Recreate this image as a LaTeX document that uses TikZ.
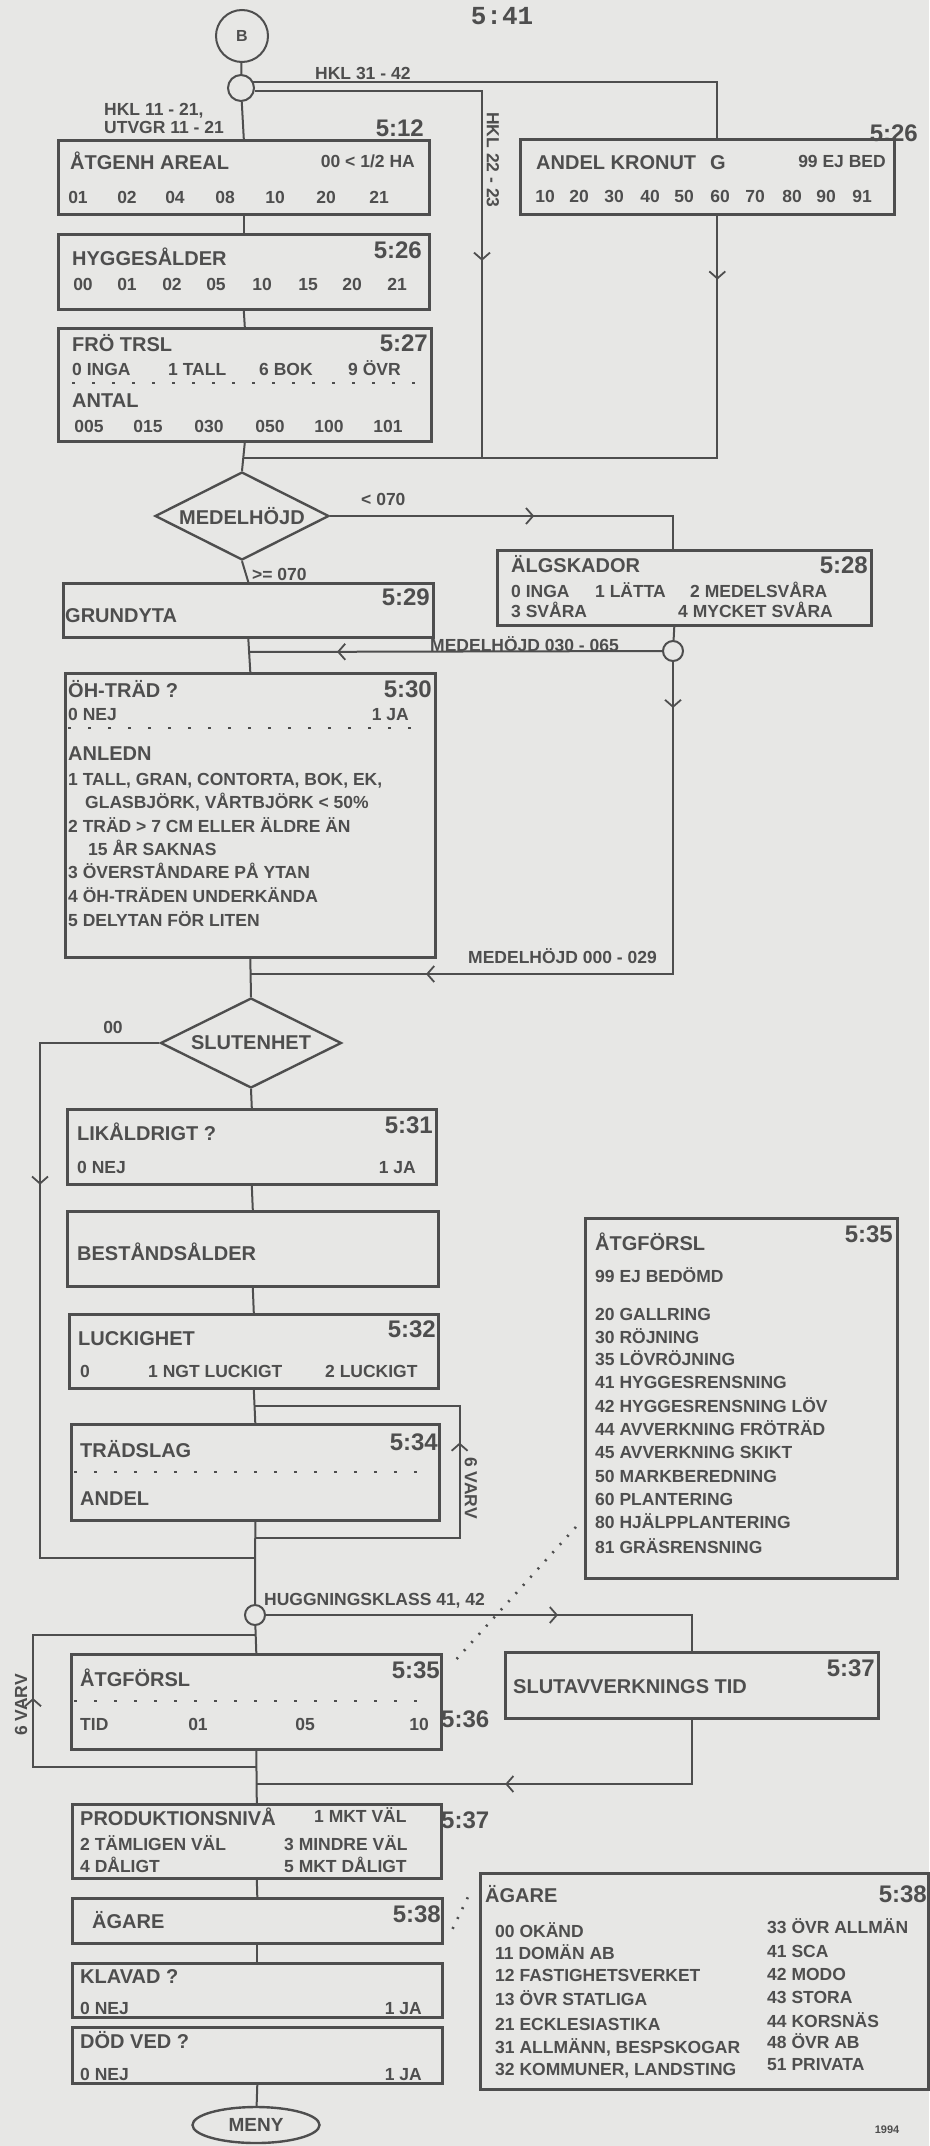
\documentclass[tikz,border=0pt]{standalone}
\usepackage{fontspec}
\setmainfont{Liberation Sans}
\newfontfamily\monofnt{Liberation Mono}
\usepackage{tikz}
\usetikzlibrary{shapes.geometric, arrows.meta, decorations.markings}
\definecolor{ink}{RGB}{78,78,78}
\definecolor{paper}{RGB}{231,231,229}
\tikzset{
  box/.style={rectangle, draw=ink, line width=2.6pt, anchor=north west, inner sep=0pt},
  conn/.style={draw=ink, line width=2pt},
  chev/.style={postaction={decorate, decoration={markings,
      mark=at position #1 with {\arrow{Straight Barb[length=7pt, width=16pt, line width=1.8pt]}}}}},
  ttl/.style={font=\fontsize{20}{22}\selectfont\bfseries, text=ink, inner sep=0pt, anchor=base west},
  itm/.style={font=\fontsize{17.5}{19}\selectfont\bfseries, text=ink, inner sep=0pt, anchor=base west},
  ref/.style={font=\fontsize{24}{26}\selectfont\bfseries, text=ink, inner sep=0pt, anchor=base east},
  dots/.style={draw=ink, line width=2pt, dash pattern=on 3pt off 17pt},
  dotlink/.style={draw=ink, line width=2.6pt, dash pattern=on 2pt off 9pt},
  junc/.style={circle, draw=ink, line width=2pt, inner sep=0pt, minimum size=#1},
  dec/.style={diamond, aspect=2, draw=ink, line width=2.4pt, inner sep=0pt,
              font=\fontsize{20}{22}\selectfont\bfseries, text=ink},
}
\begin{document}
\begin{tikzpicture}[x=1pt, y=-1pt]
\useasboundingbox (0,0) rectangle (929,2146);
\fill[paper] (0,0) rectangle (929,2146);

\node[font=\monofnt\fontsize{26}{28}\selectfont\bfseries, text=ink] (pg) at (502,16) {5:41};
\node[junc=52pt, font=\fontsize{16}{18}\selectfont\bfseries, text=ink] (b) at (242,36) {B};
\node[junc=26pt] (s1) at (241,88) {};

\node[box, minimum width=371pt, minimum height=74pt] (areal) at (57,139) {};
\node[box, minimum width=374pt, minimum height=75pt] (andel) at (519,138) {};
\node[box, minimum width=371pt, minimum height=75pt] (hygg) at (57,233) {};
\node[box, minimum width=373pt, minimum height=113pt] (fro) at (57,327) {};
\node[dec, minimum width=174pt, minimum height=88pt] (mh) at (242,516) {MEDELHÖJD};
\node[box, minimum width=370pt, minimum height=54pt] (grund) at (62,582) {};
\node[box, minimum width=374pt, minimum height=75pt] (alg) at (496,549) {};
\node[junc=20pt] (s2) at (673,651) {};
\node[box, minimum width=370pt, minimum height=284pt] (oh) at (64,672) {};
\node[dec, minimum width=181pt, minimum height=90pt] (sl) at (251,1043) {SLUTENHET};
\node[box, minimum width=369pt, minimum height=75pt] (lik) at (66,1108) {};
\node[box, minimum width=371pt, minimum height=75pt] (best) at (66,1210) {};
\node[box, minimum width=369pt, minimum height=74pt] (luck) at (68,1313) {};
\node[box, minimum width=368pt, minimum height=96pt] (trad) at (70,1423) {};
\node[box, minimum width=312pt, minimum height=360pt] (atgk) at (584,1217) {};
\node[junc=20pt] (s3) at (255,1615) {};
\node[box, minimum width=370pt, minimum height=95pt] (atg) at (70,1653) {};
\node[box, minimum width=373pt, minimum height=66pt] (slut) at (504,1651) {};
\node[box, minimum width=369pt, minimum height=74pt] (prod) at (71,1803) {};
\node[box, minimum width=370pt, minimum height=45pt] (agl) at (71,1897) {};
\node[box, minimum width=370pt, minimum height=54pt] (klav) at (71,1962) {};
\node[box, minimum width=370pt, minimum height=56pt] (dod) at (71,2026) {};
\node[box, minimum width=448pt, minimum height=216pt] (agr) at (479,1872) {};
\node[ellipse, draw=ink, line width=2.4pt, minimum width=127pt, minimum height=36pt, inner sep=0pt,
      font=\fontsize{19}{21}\selectfont\bfseries, text=ink] (meny) at (256,2125) {MENY};

\draw[conn] (b) -- (s1);
\draw[conn] (s1.27) -| ([xshift=10pt]andel.north);
\node[itm] at (315,80) {HKL 31 - 42};
\coordinate (j22) at (482,458);
\draw[conn, chev=397pt] (s1.-13) -| (j22);
\node[itm, rotate=-90, anchor=center] at (493,160) {HKL 22 - 23};
\draw[conn] (s1) -- (areal.north);
\node[itm] at (104,116) {HKL 11 - 21,};
\node[itm] at (104,134) {UTVGR 11 - 21};
\draw[conn] (areal.south) -- (hygg.north);
\draw[conn] (hygg.south) -- (fro.north);
\coordinate (j1) at (243.5,458);
\draw[conn] (fro.south) -- (mh.north);
\draw[conn, chev=64pt] ([xshift=10pt]andel.south) |- (j1);
\draw[conn, chev=204pt] (mh.east) -| ([xshift=-11pt]alg.north);
\node[itm] at (361,505) {< 070};
\draw[conn] (mh.south) -- (grund.north);
\node[itm] at (252,580) {>= 070};
\coordinate (j2) at (248,652);
\draw[conn] (grund.south) -- (oh.north);
\draw[conn] ([xshift=-10pt]alg.south) -- (s2);
\draw[conn, chev=325pt] (s2) -- (j2);
\node[itm] at (430,651) {MEDELHÖJD 030 - 065};
\coordinate (j3) at (250,974);
\draw[conn, chev=46pt, chev=559pt] (s2.south) |- (j3);
\node[itm] at (468,963) {MEDELHÖJD 000 - 029};
\draw[conn] (oh.south) -- (sl.north);
\coordinate (j4) at (255,1558);
\draw[conn, chev=261pt] (sl.west) -| ([xshift=-26pt]lik.west) |- (j4);
\node[itm, anchor=center] at (113,1027) {00};
\draw[conn] (sl.south) -- (lik.north);
\draw[conn] (lik.south) -- (best.north);
\draw[conn] (best.south) -- (luck.north);
\draw[conn] (luck.south) -- (trad.north);
\coordinate (j5) at (254,1406);
\coordinate (j6) at (255,1538);
\draw[conn, chev=300pt] (j6) -| ([xshift=19pt]trad.east) |- (j5);
\node[itm, rotate=-90, anchor=center] at (471,1488) {6 VARV};
\draw[conn] (trad.south) -- (s3);
\draw[conn, chev=292pt] (s3) -| (slut.north);
\node[itm] at (264,1605) {HUGGNINGSKLASS 41, 42};
\coordinate (j7) at (255,1635);
\coordinate (j8) at (256,1767);
\coordinate (j9) at (256,1784);
\draw[conn] (s3) -- (atg.north);
\draw[conn, chev=292pt] (j8) -| ([xshift=-37pt]atg.west) |- (j7);
\node[itm, rotate=90, anchor=center] at (21,1705) {6 VARV};
\draw[conn] (atg.south) -- (prod.north);
\draw[conn, chev=251pt] (slut.south) |- (j9);
\draw[conn] (prod.south) -- (agl.north);
\draw[conn] (agl.south) -- (klav.north);
\draw[conn] (dod.south) -- (meny);
\draw[dotlink] ([shift={(14,6)}]atg.north east) -- ([shift={(-6,-55)}]atgk.south west);
\draw[dotlink] ([shift={(9,8)}]agl.east) -- ([shift={(-11,25)}]agr.north west);

\node[ref] at (424,137) {5:12};
\node[ttl] at (70,170) {ÅTGENH AREAL};
\node[itm, anchor=base east] at (415,168) {00 < 1/2 HA};
\node[itm, anchor=base] at (78,204) {01};
\node[itm, anchor=base] at (127,204) {02};
\node[itm, anchor=base] at (175,204) {04};
\node[itm, anchor=base] at (225,204) {08};
\node[itm, anchor=base] at (275,204) {10};
\node[itm, anchor=base] at (326,204) {20};
\node[itm, anchor=base] at (379,204) {21};

\node[ref] at (918,142) {5:26};
\node[ttl] at (536,170) {ANDEL KRONUT\hspace{14pt}G};
\node[itm, anchor=base east] at (886,168) {99 EJ BED};
\node[itm, anchor=base] at (545,203) {10};
\node[itm, anchor=base] at (579,203) {20};
\node[itm, anchor=base] at (614,203) {30};
\node[itm, anchor=base] at (650,203) {40};
\node[itm, anchor=base] at (684,203) {50};
\node[itm, anchor=base] at (720,203) {60};
\node[itm, anchor=base] at (755,203) {70};
\node[itm, anchor=base] at (792,203) {80};
\node[itm, anchor=base] at (826,203) {90};
\node[itm, anchor=base] at (862,203) {91};

\node[ttl] at (72,265) {HYGGESÅLDER};
\node[ref] at (422,258) {5:26};
\node[itm, anchor=base] at (83,290) {00};
\node[itm, anchor=base] at (127,290) {01};
\node[itm, anchor=base] at (172,290) {02};
\node[itm, anchor=base] at (216,290) {05};
\node[itm, anchor=base] at (262,290) {10};
\node[itm, anchor=base] at (308,290) {15};
\node[itm, anchor=base] at (352,290) {20};
\node[itm, anchor=base] at (397,290) {21};

\node[ttl] at (72,351) {FRÖ TRSL};
\node[ref] at (428,351) {5:27};
\node[itm] at (72,375) {0 INGA};
\node[itm] at (168,375) {1 TALL};
\node[itm] at (259,375) {6 BOK};
\node[itm] at (348,375) {9 ÖVR};
\draw[dots] (72,383) -- (415,383);
\node[ttl] at (72,407) {ANTAL};
\node[itm, anchor=base] at (89,432) {005};
\node[itm, anchor=base] at (148,432) {015};
\node[itm, anchor=base] at (209,432) {030};
\node[itm, anchor=base] at (270,432) {050};
\node[itm, anchor=base] at (329,432) {100};
\node[itm, anchor=base] at (388,432) {101};

\node[ref] at (430,605) {5:29};
\node[ttl] at (65,622) {GRUNDYTA};

\node[ttl] at (511,572) {ÄLGSKADOR};
\node[ref] at (868,573) {5:28};
\node[itm] at (511,597) {0 INGA};
\node[itm] at (595,597) {1 LÄTTA};
\node[itm] at (690,597) {2 MEDELSVÅRA};
\node[itm] at (511,617) {3 SVÅRA};
\node[itm] at (678,617) {4 MYCKET SVÅRA};

\node[ttl] at (68,697) {ÖH-TRÄD ?};
\node[ref] at (432,697) {5:30};
\node[itm] at (68,720) {0 NEJ};
\node[itm, anchor=base east] at (409,720) {1 JA};
\draw[dots] (68,728) -- (421,728);
\node[ttl] at (68,760) {ANLEDN};
\node[itm] at (68,785) {1 TALL, GRAN, CONTORTA, BOK, EK,};
\node[itm] at (85,808) {GLASBJÖRK, VÅRTBJÖRK < 50\%};
\node[itm] at (68,832) {2 TRÄD > 7 CM ELLER ÄLDRE ÄN};
\node[itm] at (88,855) {15 ÅR SAKNAS};
\node[itm] at (68,878) {3 ÖVERSTÅNDARE PÅ YTAN};
\node[itm] at (68,902) {4 ÖH-TRÄDEN UNDERKÄNDA};
\node[itm] at (68,926) {5 DELYTAN FÖR LITEN};

\node[ttl] at (77,1140) {LIKÅLDRIGT ?};
\node[ref] at (433,1133) {5:31};
\node[itm] at (77,1173) {0 NEJ};
\node[itm, anchor=base east] at (416,1173) {1 JA};

\node[ttl] at (77,1260) {BESTÅNDSÅLDER};

\node[ttl] at (78,1345) {LUCKIGHET};
\node[ref] at (436,1337) {5:32};
\node[itm] at (80,1377) {0};
\node[itm] at (148,1377) {1 NGT LUCKIGT};
\node[itm] at (325,1377) {2 LUCKIGT};

\node[ttl] at (80,1457) {TRÄDSLAG};
\node[ref] at (438,1450) {5:34};
\draw[dots] (74,1472) -- (424,1472);
\node[ttl] at (80,1505) {ANDEL};

\node[ttl] at (595,1250) {ÅTGFÖRSL};
\node[ref] at (893,1242) {5:35};
\node[itm] at (595,1282) {99 EJ BEDÖMD};
\node[itm] at (595,1320) {20 GALLRING};
\node[itm] at (595,1343) {30 RÖJNING};
\node[itm] at (595,1365) {35 LÖVRÖJNING};
\node[itm] at (595,1388) {41 HYGGESRENSNING};
\node[itm] at (595,1412) {42 HYGGESRENSNING LÖV};
\node[itm] at (595,1435) {44 AVVERKNING FRÖTRÄD};
\node[itm] at (595,1458) {45 AVVERKNING SKIKT};
\node[itm] at (595,1482) {50 MARKBEREDNING};
\node[itm] at (595,1505) {60 PLANTERING};
\node[itm] at (595,1528) {80 HJÄLPPLANTERING};
\node[itm] at (595,1553) {81 GRÄSRENSNING};

\node[ttl] at (80,1686) {ÅTGFÖRSL};
\node[ref] at (440,1678) {5:35};
\draw[dots] (74,1701) -- (424,1701);
\node[itm] at (80,1730) {TID};
\node[itm, anchor=base] at (198,1730) {01};
\node[itm, anchor=base] at (305,1730) {05};
\node[itm, anchor=base] at (419,1730) {10};
\node[ref, anchor=base west] at (441,1727) {5:36};

\node[ttl] at (513,1693) {SLUTAVVERKNINGS TID};
\node[ref] at (875,1676) {5:37};

\node[ttl] at (80,1825) {PRODUKTIONSNIVÅ};
\node[itm] at (314,1822) {1 MKT VÄL};
\node[ref, anchor=base west] at (441,1828) {5:37};
\node[itm] at (80,1850) {2 TÄMLIGEN VÄL};
\node[itm] at (284,1850) {3 MINDRE VÄL};
\node[itm] at (80,1872) {4 DÅLIGT};
\node[itm] at (284,1872) {5 MKT DÅLIGT};

\node[ttl] at (92,1928) {ÄGARE};
\node[ref] at (441,1922) {5:38};
\node[ttl] at (80,1983) {KLAVAD ?};
\node[itm] at (80,2014) {0 NEJ};
\node[itm, anchor=base east] at (422,2014) {1 JA};
\node[ttl] at (80,2048) {DÖD VED ?};
\node[itm] at (80,2080) {0 NEJ};
\node[itm, anchor=base east] at (422,2080) {1 JA};

\node[ttl] at (485,1902) {ÄGARE};
\node[ref] at (927,1902) {5:38};
\node[itm] at (495,1937) {00 OKÄND};
\node[itm] at (495,1959) {11 DOMÄN AB};
\node[itm] at (495,1981) {12 FASTIGHETSVERKET};
\node[itm] at (495,2005) {13 ÖVR STATLIGA};
\node[itm] at (495,2030) {21 ECKLESIASTIKA};
\node[itm] at (495,2053) {31 ALLMÄNN, BESPSKOGAR};
\node[itm] at (495,2075) {32 KOMMUNER, LANDSTING};
\node[itm] at (767,1933) {33 ÖVR ALLMÄN};
\node[itm] at (767,1957) {41 SCA};
\node[itm] at (767,1980) {42 MODO};
\node[itm] at (767,2003) {43 STORA};
\node[itm] at (767,2027) {44 KORSNÄS};
\node[itm] at (767,2048) {48 ÖVR AB};
\node[itm] at (767,2070) {51 PRIVATA};

\node[font=\fontsize{11}{12}\selectfont\bfseries, text=ink] (yr) at (887,2130) {1994};
\end{tikzpicture}
\end{document}
